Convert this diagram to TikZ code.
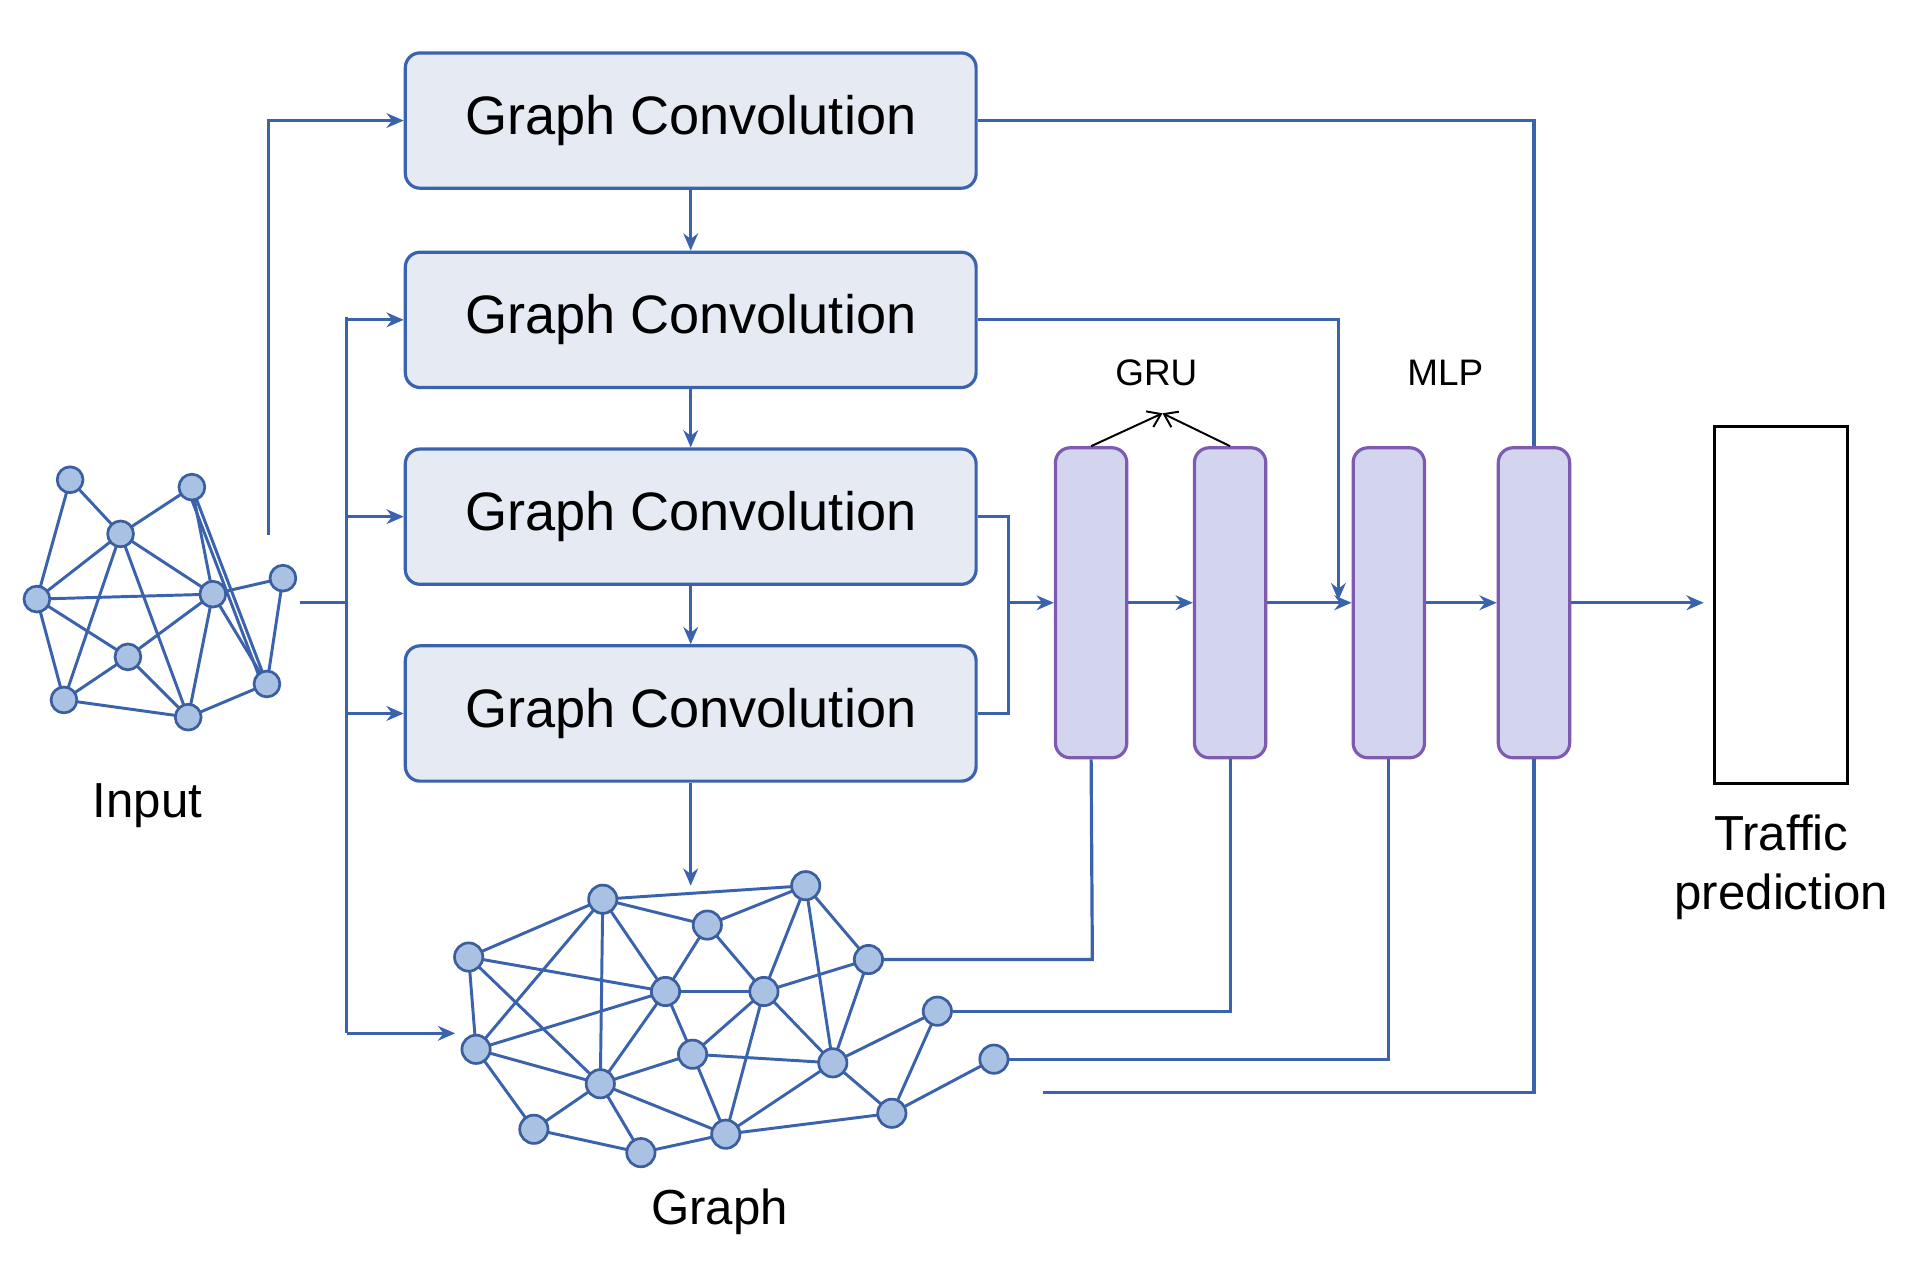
\documentclass[tikz,border=0pt]{standalone}
\usepackage{fontspec}
\setmainfont{Liberation Sans}
\usetikzlibrary{arrows.meta,calc}
\definecolor{ln}{HTML}{3B63AD}
\definecolor{nf}{HTML}{A9C1E3}
\definecolor{ns}{HTML}{3B5F9E}
\definecolor{bf}{HTML}{E6EBF3}
\definecolor{gf}{HTML}{D3D4EE}
\definecolor{gs}{HTML}{7E5BB0}
\begin{document}
\begin{tikzpicture}[x=0.5pt,y=-0.5pt,
 v/.style={circle,draw=ns,fill=nf,line width=1.1pt,minimum size=10.5pt,inner sep=0},
 vb/.style={v,minimum size=11.5pt},
 e/.style={draw=ln,line width=1.3pt},
 ed/.style={draw=ln,line width=1.2pt},
 ar/.style={draw=ln,line width=1.3pt,-{Stealth[length=7pt,width=6pt]}},
 gc/.style={draw=ln,fill=bf,line width=1.3pt,rounded corners=6pt,minimum width=232pt,minimum height=55pt,font=\fontsize{22}{26}\selectfont},
 cell/.style={draw=gs,fill=gf,line width=1.3pt,rounded corners=6pt,minimum width=29pt,minimum height=126pt},
 lab/.style={font=\fontsize{20}{24}\selectfont}]
\useasboundingbox (0,0) rectangle (1560,1040);
% input graph
\foreach \n/\x/\y in {A/57/390,B/156/396,C/98/434,D/30/487,E/173/483,F/230/470,G/104/534,H/52/569,I/153/583,J/217/556}
  \coordinate (\n) at (\x,\y);
\foreach \a/\b in {A/C,A/D,C/B,C/D,C/E,C/H,C/I,B/E,B/J,D/E,E/F,D/G,D/H,G/E,G/H,G/I,E/I,E/J,F/J,H/I,I/J}
  \draw[ed] (\a) -- (\b);
\draw[ed] ($(B)+(-4,0)$) -- ($(J)+(-4,0)$);
\foreach \n in {A,B,C,D,E,F,G,H,I,J} \node[v] (n\n) at (\n) {};
\node[lab] (inl) at (120,655) {Input};
% GC boxes
\node[gc] (g1) at (561.5,98) {Graph Convolution};
\node[gc] (g2) at (561.5,260) {Graph Convolution};
\node[gc] (g3) at (561.5,420) {Graph Convolution};
\node[gc] (g4) at (561.5,580) {Graph Convolution};
\draw[ar] (g1) -- (g2);
\draw[ar] (g2) -- (g3);
\draw[ar] (g3) -- (g4);
% cells
\node[cell] (r1) at (887,490) {};
\node[cell] (r2) at (1000,490) {};
\node[cell] (m1) at (1129,490) {};
\node[cell] (m2) at (1247,490) {};
\node[draw=black,line width=1.3pt,minimum width=54pt,minimum height=145pt] (out) at (1448,492) {};
\node[lab,align=center,font=\fontsize{20}{24}\selectfont] (outl) at (1448,705) {Traffic\\prediction};
\node[font=\fontsize{15}{18}\selectfont] (grul) at (940,303) {GRU};
\node[font=\fontsize{15}{18}\selectfont] (mlpl) at (1175,303) {MLP};
\coordinate (gt) at (945,336);
\draw[-{Straight Barb[length=5pt,width=7pt]},line width=0.8pt] (r1.north) -- (gt);
\draw[-{Straight Barb[length=5pt,width=7pt]},line width=0.8pt] (r2.north) -- (gt);
% output graph
\foreach \n/\x/\y in {a/490/731,b/655/720,c/575/752,d/381/778,ee/706/780,f/541/806,g/621/806,h/762/822,i/387/853,j/563/857,k/677/864,l/808/861,m/488/881,n/725/905,o/434/918,p/590/922,q/521/937}
  \coordinate (\n) at (\x,\y);
\foreach \a/\b in {a/b,a/c,a/d,a/i,a/m,a/f,c/b,c/f,c/g,d/f,d/i,d/m,b/g,b/k,b/ee,ee/g,ee/k,f/g,f/i,f/m,f/j,g/j,g/p,g/k,i/m,i/o,m/j,m/p,m/q,m/o,j/k,j/p,k/h,k/n,k/p,h/n,n/l,n/p,o/q,q/p}
  \draw[ed] (\a) -- (\b);
\foreach \n in {a,b,c,d,ee,f,g,h,i,j,k,l,m,n,o,p,q} \node[vb] (n\n) at (\n) {};
\node[lab] (gl) at (585,985) {Graph};
\draw[ar] (g4) -- (561.5,720);
% input connections
\coordinate (ia) at (218,435);
\coordinate (ib) at (244,490);
\coordinate (sp) at (282,490);
\draw[ar] (ia) |- (g1.west);
\draw[e] (ib) -- (sp);
\draw[e] (282,258) -- (282,840);
\draw[ar] (282,260) -- (g2.west);
\draw[ar] (282,420) -- (g3.west);
\draw[ar] (282,580) -- (g4.west);
\draw[ar] (282,840) -- (370,840);
% right connections
\draw[e] (g1.east) -| (m2.north);
\draw[ar] (g2.east) -| (1088,488);
\draw[e] (g3.east) -| (820,580) -- (g4.east);
\draw[ar] (820,490) -- (r1.west);
\draw[ar] (r1) -- (r2);
\draw[ar] (r2) -- (m1);
\draw[ar] (m1) -- (m2);
\draw[ar] (m2.east) -- (1385,490);
\draw[e] (nee) -- (888,780) -- (r1.south);
\draw[e] (nh) -- (1000,822) -- (r2.south);
\draw[e] (nl) -- (1129,861) -- (m1.south);
\coordinate (bl) at (848,888);
\draw[e] (bl) -| (m2.south);
\end{tikzpicture}
\end{document}
